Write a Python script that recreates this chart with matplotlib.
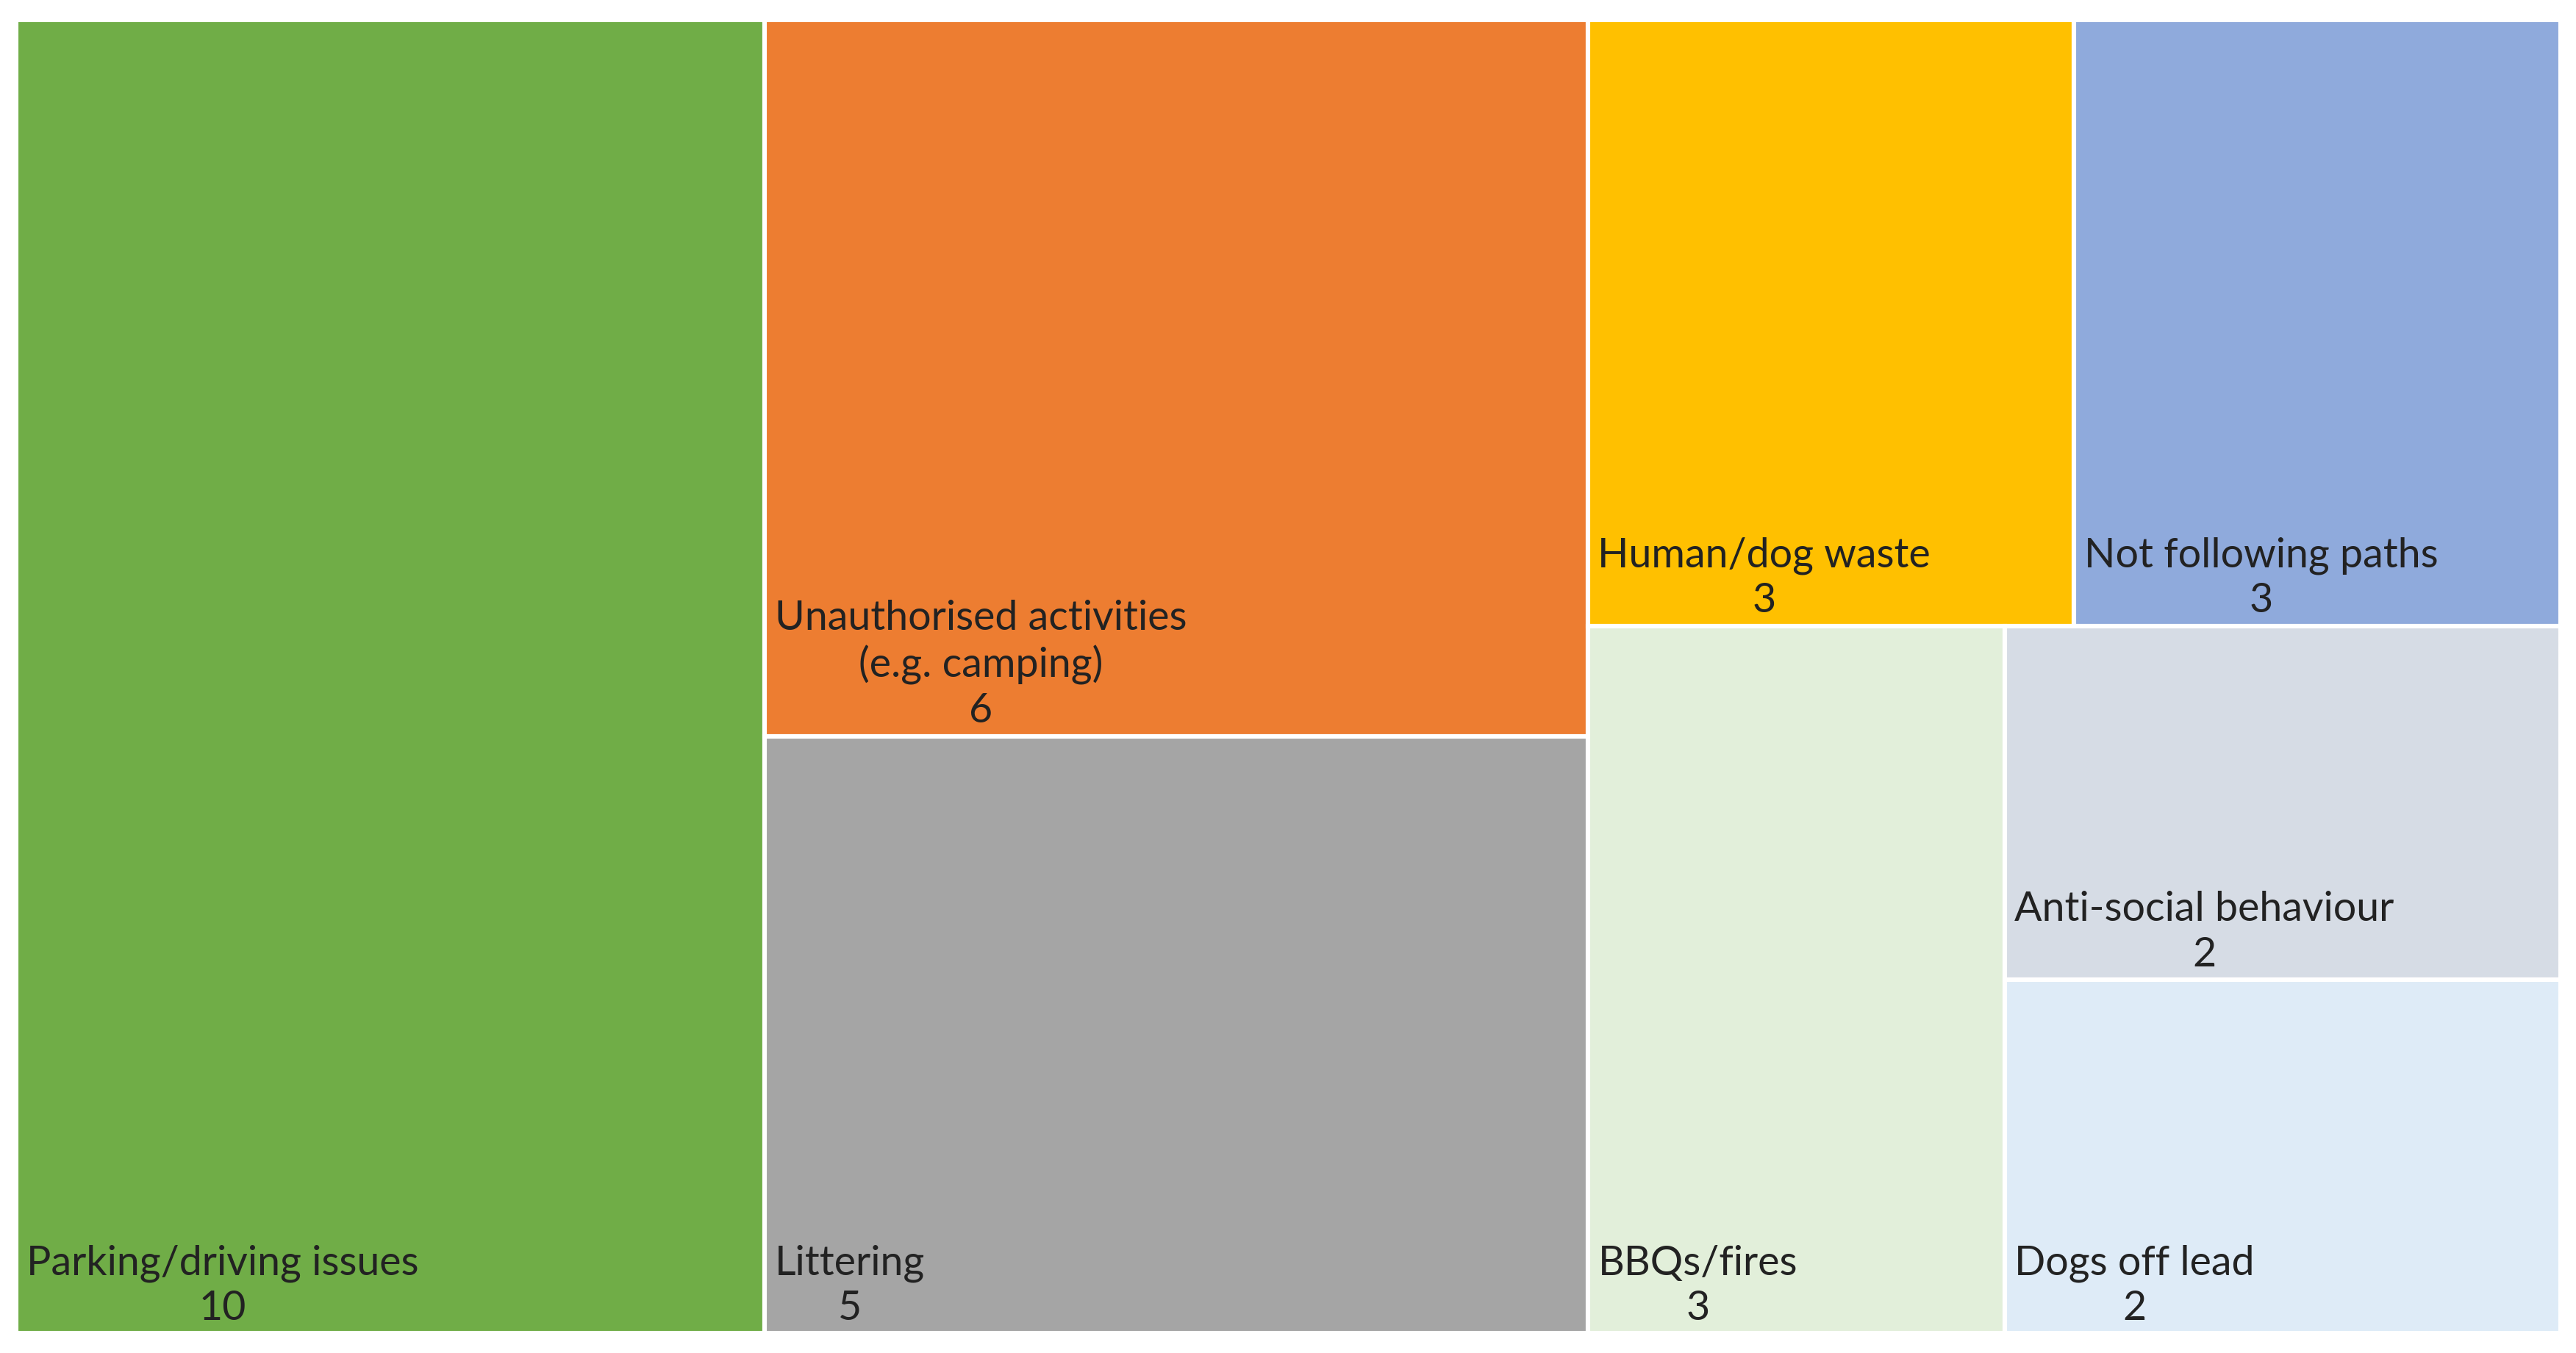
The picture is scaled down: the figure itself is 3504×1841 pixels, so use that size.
import matplotlib.pyplot as plt
from matplotlib.patches import Rectangle

# columns of the treemap, each column is a list of rows, each row a list of items
labels = [[["Parking/driving issues"]],
          [["Unauthorised activities\n(e.g. camping)"], ["Littering"]],
          [["Human/dog waste", "Not following paths"], ["BBQs/fires", "ANTI"]]]
values = {"Parking/driving issues": 10, "Unauthorised activities\n(e.g. camping)": 6,
          "Littering": 5, "Human/dog waste": 3, "Not following paths": 3,
          "BBQs/fires": 3, "Anti-social behaviour": 2, "Dogs off lead": 2}
sub_column = ["Anti-social behaviour", "Dogs off lead"]
colors = {"Parking/driving issues": "#70AD47", "Unauthorised activities\n(e.g. camping)": "#ED7D31",
          "Littering": "#A5A5A5", "Human/dog waste": "#FFC000", "Not following paths": "#8FAADC",
          "BBQs/fires": "#E2EFDA", "Anti-social behaviour": "#D6DCE5", "Dogs off lead": "#DEEBF7"}

W, H = 1.0, 1.0
total = sum(values.values())


def val(name):
    if name == "ANTI":
        return sum(values[n] for n in sub_column)
    return values[name]


rects = []
x = 0
for col in labels:
    col_total = sum(val(n) for row in col for n in row)
    cw = W * col_total / total
    y = 0
    for row in col:
        row_total = sum(val(n) for n in row)
        rh = H * row_total / col_total
        rx = x
        for n in row:
            rw = cw * val(n) / row_total
            if n == "ANTI":
                sy = y
                for s in sub_column:
                    sh = rh * values[s] / val(n)
                    rects.append((s, rx, sy, rw, sh))
                    sy += sh
            else:
                rects.append((n, rx, y, rw, rh))
            rx += rw
        y += rh
    x += cw

fig = plt.figure(figsize=(17.525, 9.205), dpi=200)
ax = fig.add_axes([0.0064, 0.0146, 0.9872, 0.9708])
ax.set_xlim(0, W)
ax.set_ylim(H, 0)
ax.axis("off")

for name, rx, ry, rw, rh in rects:
    ax.add_patch(Rectangle((rx, ry), rw, rh, facecolor=colors[name],
                           edgecolor="white", linewidth=2.2))
    ax.annotate(f"{name}\n{values[name]}", (rx, ry + rh), xytext=(5, 3),
                textcoords="offset points", ha="left", va="bottom",
                multialignment="center", fontsize=20, family="Lato",
                color="#222222", linespacing=1.25)

fig.savefig("out.png")
